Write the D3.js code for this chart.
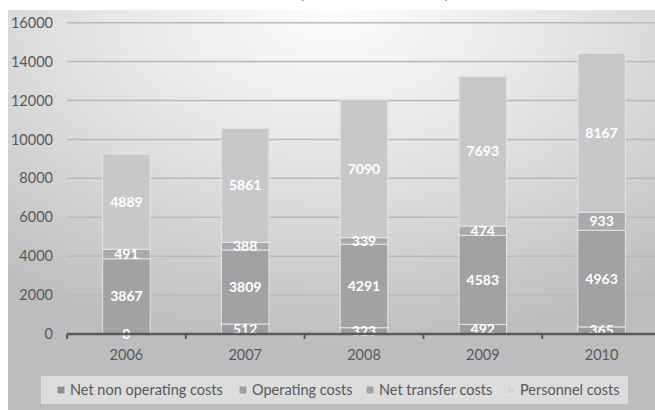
<!DOCTYPE html>
<html><head><meta charset="utf-8">
<script src="https://cdn.jsdelivr.net/npm/d3@7"></script>
<style>html,body{margin:0;padding:0;background:#fff;overflow:hidden}svg{display:block}</style>
</head><body>
<svg id="c" width="655" height="410"></svg>
<script>
const years = ["2006","2007","2008","2009","2010"];
const seriesNames = ["Net non operating costs","Operating costs","Net transfer costs","Personnel costs"];
const netNonOperating = [0,512,323,492,365];
const operating = [3867,3809,4291,4583,4963];
const netTransfer = [491,388,339,474,933];
const personnel = [4889,5861,7090,7693,8167];
const yTicks = [0,2000,4000,6000,8000,10000,12000,14000,16000];
const titleText = "Costs (in thousands of euros)";

const barColors = ["#9c9c9e","#a2a2a4","#aaaaac","#c8c8ca"];
const legendColors = ["#8e8e8e","#9f9f9f","#a3a3a3","#d4d4d4"];

const svg = d3.select("#c");
const defs = svg.append("defs");
const rg = defs.append("radialGradient").attr("id","bg")
  .attr("cx","50%").attr("cy","0%").attr("r","85%").attr("fx","50%").attr("fy","0%");
rg.append("stop").attr("offset","0%").attr("stop-color","#fdfdfd");
rg.append("stop").attr("offset","45%").attr("stop-color","#e4e4e5");
rg.append("stop").attr("offset","100%").attr("stop-color","#bdbdbf");

svg.append("rect").attr("x",8).attr("y",10).attr("width",647).attr("height",400).attr("fill","url(#bg)");

svg.append("text").attr("x",354).attr("y",-1).attr("text-anchor","middle")
  .attr("font-family","Lato, 'Open Sans', sans-serif").attr("font-size",15).attr("fill","#777")
  .text(titleText);

const x = d3.scaleBand().domain(years).range([67,661]).paddingInner(0.6).paddingOuter(0.3);
const y = d3.scaleLinear().domain([0,16000]).range([334,22.7]);

const font = "Lato, 'Open Sans', sans-serif";

// gridlines
svg.append("g").selectAll("line").data(yTicks.slice(1)).join("line")
  .attr("x1",67).attr("x2",655).attr("y1",d=>y(d)).attr("y2",d=>y(d))
  .attr("stroke","#b9b9bb").attr("stroke-width",1.5);

// y axis labels
const yAxis = d3.axisLeft(y).tickValues(yTicks).tickSize(0).tickPadding(0).tickFormat(d3.format("d"));
const ya = svg.append("g").attr("transform","translate(53,0)").call(yAxis);
ya.select(".domain").remove();
ya.selectAll("text").attr("font-family",font).attr("font-size",14.5).attr("fill","#595959");

// stacks
const rows = years.map((yr,i)=>({year:yr, s0:netNonOperating[i], s1:operating[i], s2:netTransfer[i], s3:personnel[i]}));
const keys = ["s0","s1","s2","s3"];
const stack = d3.stack().keys(keys)(rows);

const g = svg.append("g");
stack.forEach((layer,li)=>{
  g.append("g").selectAll("rect").data(layer).join("rect")
    .attr("x",d=>x(d.data.year)).attr("width",x.bandwidth())
    .attr("y",d=>y(d[1])).attr("height",d=>y(d[0])-y(d[1]))
    .attr("fill",barColors[li]).attr("stroke","#e4e4e6").attr("stroke-width",1);
});

// x axis
const xa = svg.append("g").attr("transform","translate(0,334)")
  .call(d3.axisBottom(x).tickSize(0).tickPadding(16));
xa.select(".domain").remove();
xa.append("line").attr("x1",67).attr("x2",661).attr("stroke","#5a5a5a").attr("stroke-width",2.5);
xa.selectAll(".bnd").data(d3.range(years.length+1)).join("line").attr("class","bnd")
  .attr("x1",i=>67+i*x.step()).attr("x2",i=>67+i*x.step()).attr("y1",0).attr("y2",5)
  .attr("stroke","#5a5a5a").attr("stroke-width",2);
xa.selectAll("text").attr("font-family",font).attr("font-size",14.5).attr("fill","#595959");

// data labels
stack.forEach((layer,li)=>{
  g.append("g").selectAll("text").data(layer).join("text")
    .attr("x",d=>x(d.data.year)+x.bandwidth()/2)
    .attr("y",d=>(y(d[0])+y(d[1]))/2)
    .attr("dy","0.36em").attr("text-anchor","middle")
    .attr("font-family",font).attr("font-weight","bold").attr("font-size",14)
    .attr("fill","#ffffff")
    .text(d=>d[1]-d[0]);
});

// legend
const lg = svg.append("g");
lg.append("rect").attr("x",41).attr("y",376).attr("width",587).attr("height",28).attr("fill","#dcdcdd");
const legendX = [57,239,366,507];
seriesNames.forEach((n,i)=>{
  lg.append("rect").attr("x",legendX[i]).attr("y",386).attr("width",8).attr("height",8)
    .attr("fill",legendColors[i]).attr("stroke","#e8e8e8").attr("stroke-width",0.8);
  lg.append("text").attr("x",legendX[i]+13).attr("y",390).attr("dy","0.36em")
    .attr("font-family",font).attr("font-size",14.5).attr("fill","#595959").text(n);
});
</script>
</body></html>
